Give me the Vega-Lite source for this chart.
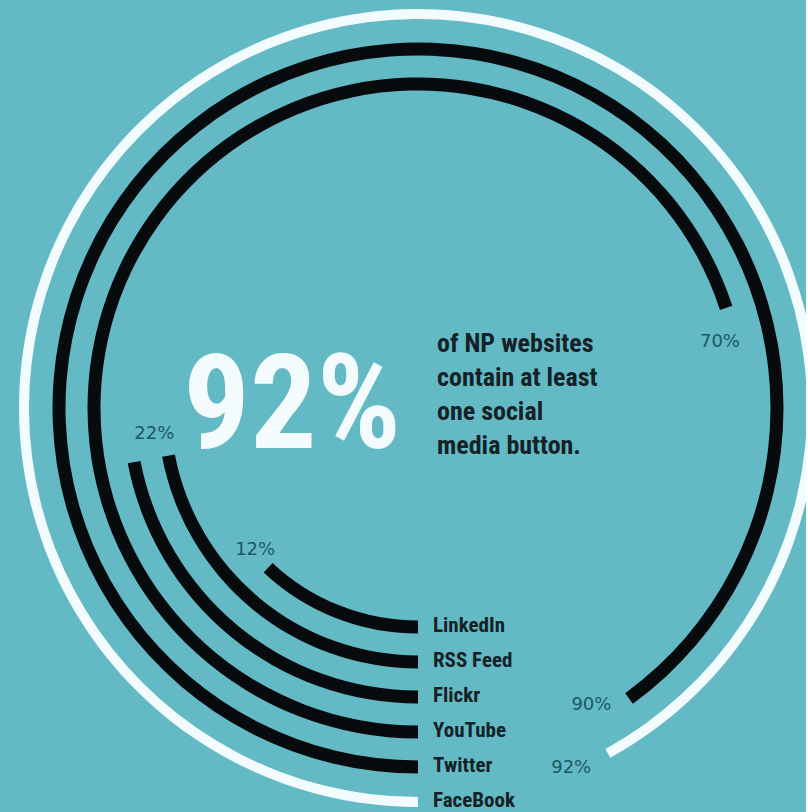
{
  "$schema": "https://vega.github.io/schema/vega-lite/v6.json",
  "width": 776,
  "height": 812,
  "autosize": {"type": "none"},
  "padding": {"left": 30, "top": 2, "right": 0, "bottom": 0},
  "background": "#63BAC5",
  "config": {"view": {"stroke": null}},
  "data": {
    "values": [
      {"name": "LinkedIn", "share": 0.12},
      {"name": "RSS Feed", "share": 0.22},
      {"name": "Flickr", "share": 0.22},
      {"name": "YouTube", "share": 0.70},
      {"name": "Twitter", "share": 0.90},
      {"name": "FaceBook", "share": 0.92}
    ]
  },
  "encoding": {
    "radius": {
      "field": "name",
      "type": "nominal",
      "scale": {
        "type": "point",
        "domain": ["LinkedIn", "RSS Feed", "Flickr", "YouTube", "Twitter", "FaceBook"],
        "range": [219, 394],
        "padding": 0
      }
    }
  },
  "layer": [
    {
      "transform": [{"filter": "datum.name != 'FaceBook'"}],
      "mark": {"type": "arc", "color": "#080b0d", "radiusOffset": 6.5, "radius2Offset": -6.5},
      "encoding": {
        "theta": {"field": "share", "type": "quantitative", "stack": null, "scale": {"domain": [0, 1], "range": [3.14159265, 9.42477796]}},
        "theta2": {"datum": 0},
        "radius2": {"field": "name"}
      }
    },
    {
      "transform": [{"filter": "datum.name == 'FaceBook'"}],
      "mark": {"type": "arc", "color": "#f2fbfd", "radiusOffset": 5, "radius2Offset": -5},
      "encoding": {
        "theta": {"field": "share", "type": "quantitative", "stack": null},
        "theta2": {"datum": 0},
        "radius2": {"field": "name"}
      }
    },
    {
      "mark": {"type": "text", "align": "left", "baseline": "middle", "dx": 15, "dy": -1, "font": "Roboto Condensed, Roboto, sans-serif", "fontWeight": "bold", "fontSize": 21, "color": "#142227"},
      "encoding": {
        "theta": {"datum": 0, "type": "quantitative"},
        "text": {"field": "name"}
      }
    },
    {
      "transform": [{"filter": "datum.name == 'YouTube' || datum.name == 'Twitter'"}],
      "mark": {"type": "text", "align": "center", "baseline": "middle", "thetaOffset": 0.1, "radiusOffset": -15, "font": "DejaVu Sans", "fontSize": 18, "color": "#1d5865"},
      "encoding": {
        "theta": {"field": "share", "type": "quantitative", "stack": null},
        "text": {"field": "share", "type": "quantitative", "format": ".0%"}
      }
    },
    {
      "transform": [{"filter": "datum.name == 'FaceBook' || datum.name == 'LinkedIn'"}],
      "mark": {"type": "text", "align": "center", "baseline": "middle", "thetaOffset": 0.1, "radiusOffset": -3, "font": "DejaVu Sans", "fontSize": 18, "color": "#1d5865"},
      "encoding": {
        "theta": {"field": "share", "type": "quantitative", "stack": null},
        "text": {"field": "share", "type": "quantitative", "format": ".0%"}
      }
    },
    {
      "transform": [{"filter": "datum.name == 'RSS Feed'"}],
      "mark": {"type": "text", "align": "center", "baseline": "middle", "thetaOffset": 0.09, "radiusOffset": 11, "font": "DejaVu Sans", "fontSize": 18, "color": "#1d5865"},
      "encoding": {
        "theta": {"field": "share", "type": "quantitative", "stack": null},
        "text": {"field": "share", "type": "quantitative", "format": ".0%"}
      }
    },
    {
      "data": {"values": [{"headline": "92%"}]},
      "mark": {"type": "text", "align": "right", "baseline": "alphabetic", "dx": -17, "dy": 40, "font": "Roboto Condensed, Roboto, sans-serif", "fontWeight": "bold", "fontSize": 132, "color": "#f4fbfc"},
      "encoding": {
        "radius": {"value": 0},
        "text": {"field": "headline"}
      }
    },
    {
      "data": {"values": [{"note": "description"}]},
      "mark": {"type": "text", "align": "left", "baseline": "alphabetic", "dx": 19, "dy": -56, "lineHeight": 34, "font": "Roboto Condensed, Roboto, sans-serif", "fontWeight": "bold", "fontSize": 26, "color": "#142227"},
      "encoding": {
        "radius": {"value": 0},
        "text": {"value": ["of NP websites", "contain at least", "one social", "media button."]}
      }
    }
  ]
}
